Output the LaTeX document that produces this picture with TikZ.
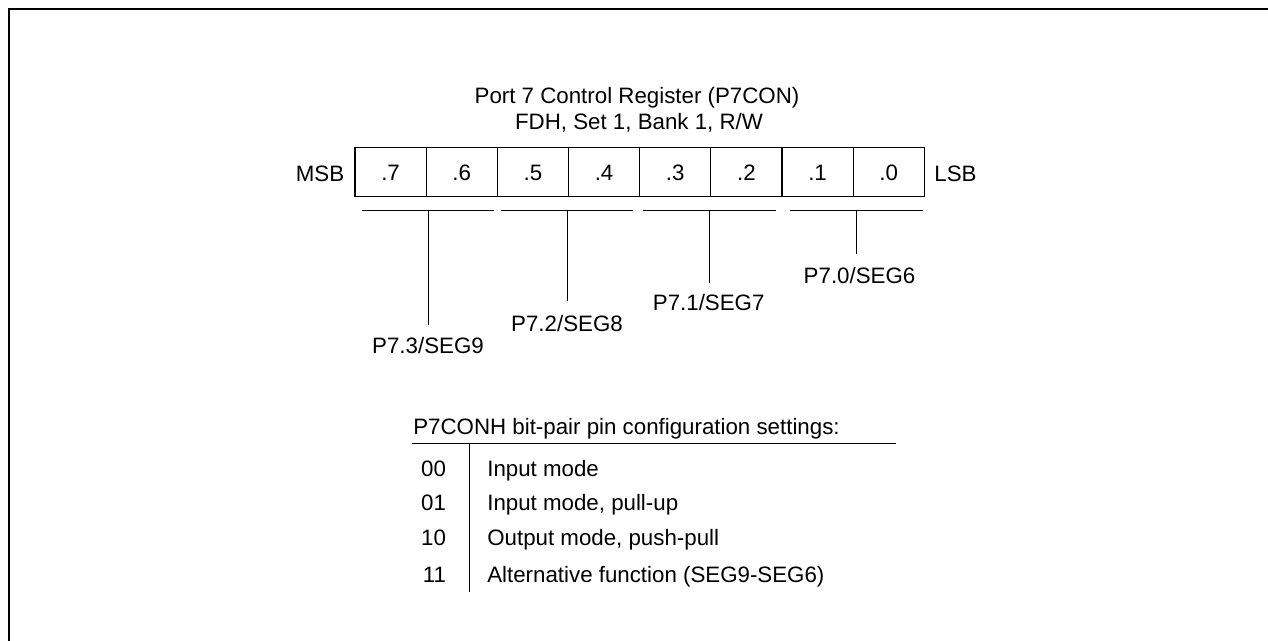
\documentclass[tikz,border=0pt]{standalone}
\usepackage{fontspec}
\setmainfont{Liberation Sans}
\begin{document}
\begin{tikzpicture}[x=1pt,y=-1pt,
  every node/.style={font=\fontsize{22.3}{26}\selectfont, inner sep=0pt, outer sep=0pt},
  cell/.style={draw, line width=1.1pt, minimum width=71.16pt, minimum height=49.4pt, text height=16pt, text depth=0pt},
  frameline/.style={line width=2pt},
  thinline/.style={line width=1.1pt},
  txt/.style={anchor=base},
  txtw/.style={anchor=base west},
  txte/.style={anchor=base east}]
\useasboundingbox (0,0) rectangle (1268,640);
% outer frame (clipped at right and bottom)
\draw[frameline] (9,645) -- (9,9) -- (1275,9);

% title
\node[txt] (title1) at (637,103.3) {Port 7 Control Register (P7CON)};
\node[txt] (title2) at (639,129.3) {FDH, Set 1, Bank 1, R/W};

% register cells
\foreach \i/\t in {0/.7,1/.6,2/.5,3/.4,4/.3,5/.2,6/.1,7/.0} {
  \node[cell] (c\i) at ({355+71.16*(\i+0.5)},172) {\t};
}
\node[txt] (msb) at (320,181.5) {MSB};
\node[txt] (lsb) at (955.5,181.5) {LSB};

% brackets
\coordinate (b1l) at (362.3,210.7); \coordinate (b1r) at (494,210.7); \coordinate (b1m) at (428.3,210.7);
\coordinate (b2l) at (501,210.7);   \coordinate (b2r) at (633.3,210.7); \coordinate (b2m) at (567.3,210.7);
\coordinate (b3l) at (643.3,210.7); \coordinate (b3r) at (775.7,210.7); \coordinate (b3m) at (709.3,210.7);
\coordinate (b4l) at (790,210.7);   \coordinate (b4r) at (922.7,210.7); \coordinate (b4m) at (856.7,210.7);
\coordinate (e1) at (428.3,325);
\coordinate (e2) at (567.3,300.7);
\coordinate (e3) at (709.3,282.7);
\coordinate (e4) at (856.7,254);
\foreach \k in {1,2,3,4} {
  \draw[thinline] (b\k l) -- (b\k r);
  \draw[thinline] (b\k m) -- (e\k);
}
\node[txt] (p73) at (428,353) {P7.3/SEG9};
\node[txt] (p72) at (567,331.7) {P7.2/SEG8};
\node[txt] (p71) at (708.7,310.7) {P7.1/SEG7};
\node[txt] (p70) at (859.5,283.3) {P7.0/SEG6};

% settings table
\node[txtw] (hdr) at (413.3,434) {P7CONH bit-pair pin configuration settings:};
\coordinate (hl) at (411.7,443.3);
\coordinate (hr) at (896,443.3);
\coordinate (vt) at (469.3,443.3);
\coordinate (vb) at (469.3,591.7);
\draw[thinline] (hl) -- (hr);
\draw[thinline] (vt) -- (vb);

\node[txte] (k00) at (446,476.7) {00};
\node[txte] (k01) at (446,510.7) {01};
\node[txte] (k10) at (446,545.7) {10};
\node[txte] (k11) at (446,582.7) {11};
\node[txtw] (d00) at (487.3,476.7) {Input mode};
\node[txtw] (d01) at (487.3,510.7) {Input mode, pull-up};
\node[txtw] (d10) at (487.3,545.7) {Output mode, push-pull};
\node[txtw] (d11) at (487.3,582.7) {Alternative function (SEG9-SEG6)};
\end{tikzpicture}
\end{document}
